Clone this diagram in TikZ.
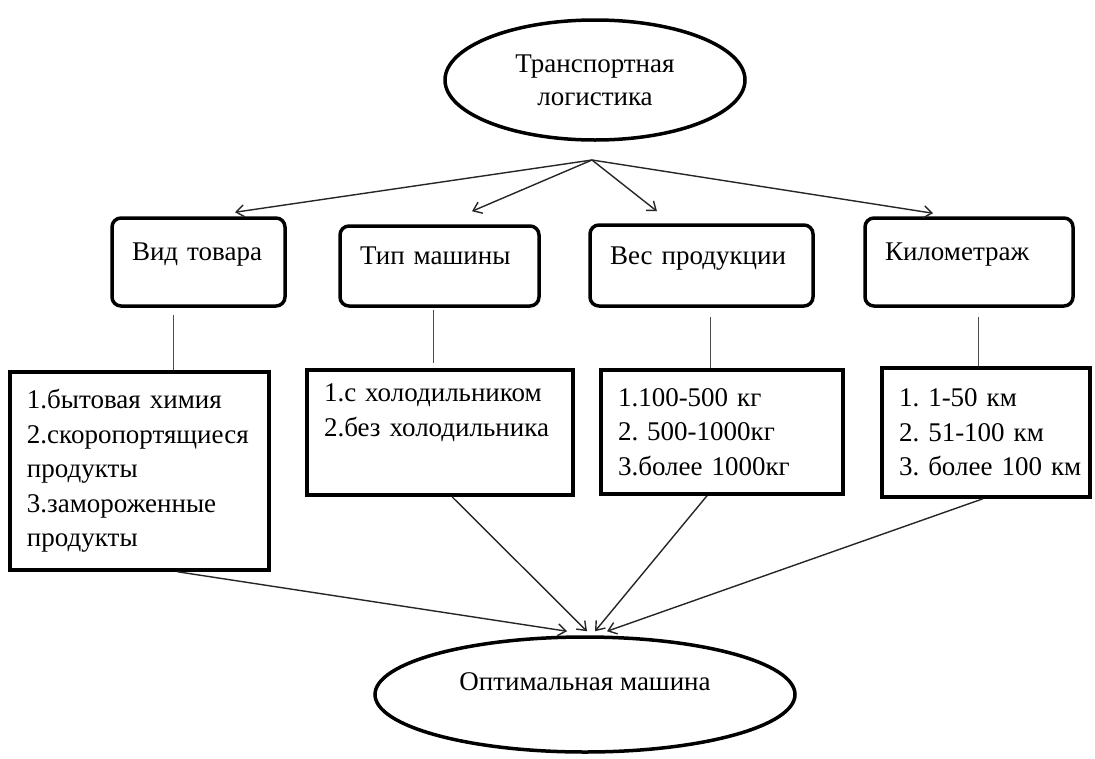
\documentclass[tikz,border=0pt]{standalone}
\usepackage{fontspec}
\setmainfont{Liberation Serif}
\usepackage{tikz}
\usetikzlibrary{shapes.geometric, arrows.meta}
\hyphenpenalty=10000

\begin{document}
\begin{tikzpicture}[x=1pt, y=-1pt]
    % Styles
    \tikzstyle{oval} = [ellipse, draw=black, line width=3.5pt, inner sep=0pt, align=center, font=\fontsize{27}{33}\selectfont]
    \tikzstyle{head} = [rectangle, draw=black, line width=3.5pt, rounded corners=9pt, inner xsep=20pt, inner ysep=0pt, align=left, text height=19pt, text depth=22pt, font=\fontsize{27}{33}\selectfont]
    \tikzstyle{list} = [rectangle, draw=black, line width=3.5pt, inner xsep=17pt, inner ysep=0pt, align=left, font=\fontsize{27}{34.5}\selectfont]
    \tikzstyle{arrow} = [-{Straight Barb[length=8pt, width=12pt]}, line width=1.4pt, draw=black!85]
    \tikzstyle{link} = [line width=0.9pt, draw=black!70]

    \useasboundingbox (0,0) rectangle (1095,758);

    % Nodes
    \node[oval, minimum width=300pt, minimum height=120pt] (top) at (595,80) {Транспортная\\логистика};
    \coordinate (hub) at (592,160);

    \node[head, text width=133pt, minimum height=88pt] (h1) at (198.5,262) {Вид товара};
    \node[head, text width=159pt, minimum height=80pt] (h2) at (439.5,266) {Тип машины};
    \node[head, text width=183pt, minimum height=81pt] (h3) at (701.5,265.5) {Вес продукции};
    \node[head, text width=168pt, minimum height=88pt] (h4) at (969,262) {Километраж};

    \node[list, text width=225pt, minimum height=198pt] (l1) at (139.5,471) {1.бытовая~химия\\2.скоропортящиеся\\продукты\\3.замороженные\\продукты};
    \node[list, text width=232pt, minimum height=125pt] (l2) at (440,432.5) {1.с~холодильником\\2.без~холодильника\\\strut};
    \node[list, text width=208pt, minimum height=124pt] (l3) at (722,432) {1.100-500~кг\\2.~500-1000кг\\3.более~1000кг};
    \node[list, text width=174pt, minimum height=129pt] (l4) at (986,432.5) {1.~1-50~км\\2.~51-100~км\\3.~более~100~км};

    \node[oval, minimum width=420pt, minimum height=115pt, text height=19pt, text depth=28pt] (res) at (585,694.5) {Оптимальная машина};

    % Arrows
    \draw[arrow] (hub) -- ([xshift=36.5pt, yshift=4pt]h1.north);
    \draw[arrow] (hub) -- ([xshift=32.5pt, yshift=13pt]h2.north);
    \draw[arrow] (hub) -- ([xshift=-44.5pt, yshift=12pt]h3.north);
    \draw[arrow] (hub) -- ([xshift=-36pt, yshift=3pt]h4.north);

    \draw[link] ([xshift=-25.5pt, yshift=-7pt]h1.south) -- ([xshift=33.5pt]l1.north);
    \draw[link] ([xshift=-6.5pt, yshift=-2pt]h2.south) -- ([xshift=-7pt, yshift=5pt]l2.north);
    \draw[link] ([xshift=8.5pt, yshift=-9pt]h3.south) -- ([xshift=-12pt]l3.north);
    \draw[link] ([xshift=9pt, yshift=-9pt]h4.south) -- ([xshift=-8pt]l4.north);

    \draw[arrow] ([xshift=38pt]l1.south) -- ([xshift=-18pt, yshift=4pt]res.north);
    \draw[arrow] ([xshift=12pt]l2.south) -- ([xshift=2pt, yshift=4pt]res.north);
    \draw[arrow] ([xshift=-15pt]l3.south) -- ([xshift=10pt, yshift=4pt]res.north);
    \draw[arrow] ([xshift=-3pt]l4.south) -- ([xshift=22pt, yshift=4pt]res.north);
\end{tikzpicture}
\end{document}
